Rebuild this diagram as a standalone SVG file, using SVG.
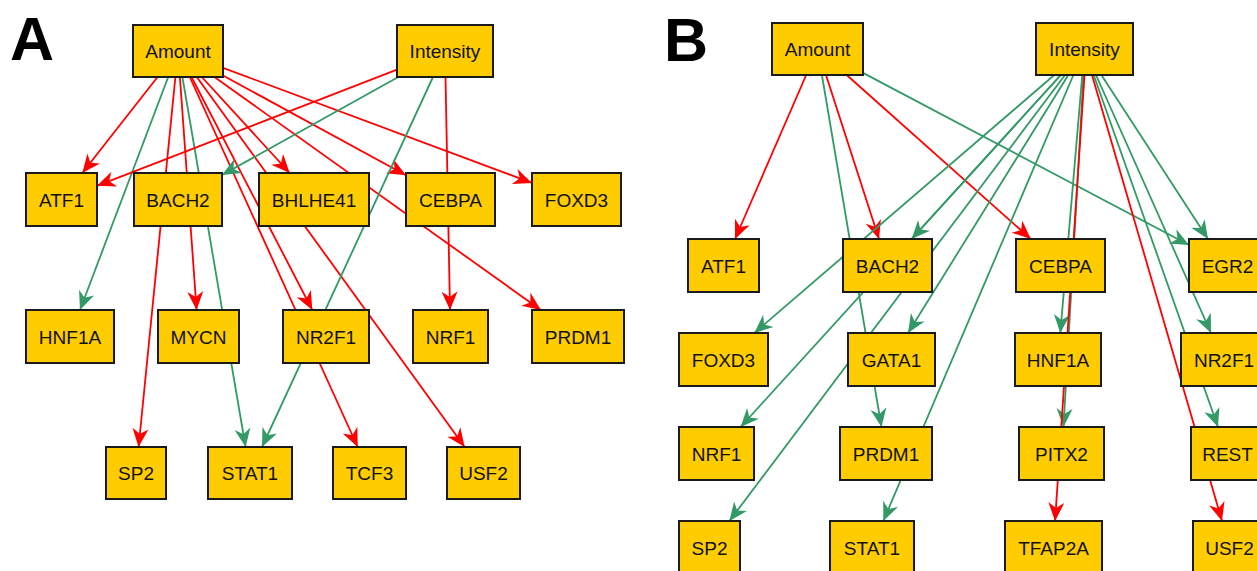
<svg xmlns="http://www.w3.org/2000/svg" width="1257" height="571" viewBox="0 0 1257 571">
<style>
.n rect{fill:#FFCC00;stroke:#1a1a1a;stroke-width:2}
.n text{font-family:"Liberation Sans",Arial,sans-serif;font-size:19px;fill:#111;text-anchor:middle}
.r{stroke:#FF0000;stroke-width:1.8;fill:none;marker-end:url(#ar)}
.g{stroke:#339966;stroke-width:1.8;fill:none;marker-end:url(#ag)}
.lbl{font-family:"Liberation Sans",Arial,sans-serif;font-weight:bold;font-size:61px;fill:#000}
</style>
<defs>
<marker id="ar" viewBox="-19 -9 20 18" refX="0" refY="0" markerWidth="20" markerHeight="18" markerUnits="userSpaceOnUse" orient="auto">
<path d="M0,0 L-18.5,-8 L-13,0 L-18.5,8 Z" fill="#FF0000"/>
</marker>
<marker id="ag" viewBox="-19 -9 20 18" refX="0" refY="0" markerWidth="20" markerHeight="18" markerUnits="userSpaceOnUse" orient="auto">
<path d="M0,0 L-18.5,-8 L-13,0 L-18.5,8 Z" fill="#339966"/>
</marker>
</defs>
<rect width="1257" height="571" fill="#fff"/>
<text class="lbl" x="10" y="60">A</text>
<text class="lbl" x="664" y="61">B</text>
<g id="connectors">
<line class="r" x1="157.6" y1="77" x2="82.3" y2="173"/>
<line class="g" x1="168.2" y1="77" x2="80" y2="310"/>
<line class="r" x1="175.4" y1="77" x2="138.6" y2="447"/>
<line class="r" x1="179.9" y1="77" x2="196.6" y2="310"/>
<line class="g" x1="182.4" y1="77" x2="245.6" y2="447"/>
<line class="r" x1="189.8" y1="77" x2="357.7" y2="447"/>
<line class="r" x1="191.5" y1="77" x2="312.3" y2="310"/>
<line class="r" x1="196.8" y1="77" x2="464.7" y2="447"/>
<line class="r" x1="201.8" y1="77" x2="289.7" y2="173"/>
<line class="r" x1="214.4" y1="77" x2="540.9" y2="310"/>
<line class="r" x1="223" y1="75.5" x2="406" y2="175.2"/>
<line class="r" x1="223" y1="67.8" x2="532" y2="182.9"/>
<line class="r" x1="397" y1="69.6" x2="97" y2="185.8"/>
<line class="g" x1="398.3" y1="77" x2="222" y2="175"/>
<line class="g" x1="433" y1="77" x2="262" y2="447"/>
<line class="r" x1="445.5" y1="77" x2="450" y2="310"/>

<line class="r" x1="806.2" y1="75" x2="735" y2="239"/>
<line class="r" x1="826" y1="75" x2="879" y2="239"/>
<line class="g" x1="821.9" y1="75" x2="881.5" y2="427"/>
<line class="r" x1="846.7" y1="75" x2="1030.8" y2="239"/>
<line class="g" x1="863" y1="72.9" x2="1189" y2="245"/>
<line class="g" x1="1054.3" y1="75" x2="754.3" y2="333"/>
<line class="g" x1="1060.8" y1="75" x2="911.6" y2="239"/>
<line class="g" x1="1060.8" y1="75" x2="740.6" y2="427"/>
<line class="g" x1="1065" y1="75" x2="729.4" y2="521"/>
<line class="g" x1="1068.3" y1="75" x2="908" y2="333"/>
<line class="g" x1="1073.4" y1="75" x2="883.3" y2="521"/>
<line class="g" x1="1082.3" y1="75" x2="1060.3" y2="333"/>
<line class="g" x1="1083.5" y1="75" x2="1063.5" y2="427"/>
<line class="r" x1="1084.5" y1="75" x2="1055.1" y2="521"/>
<line class="r" x1="1092" y1="75" x2="1222" y2="521"/>
<line class="g" x1="1093.7" y1="75" x2="1218" y2="427"/>
<line class="g" x1="1096" y1="75" x2="1211" y2="333"/>
<line class="g" x1="1101.4" y1="75" x2="1208" y2="239"/>
</g>

<g id="A_Amount" class="n"><rect x="133" y="25" width="90" height="52"/><text x="178" y="58">Amount</text></g>
<g id="A_Intensity" class="n"><rect x="397" y="25" width="96" height="52"/><text x="445" y="58">Intensity</text></g>
<g id="A_ATF1" class="n"><rect x="26" y="173" width="71" height="53"/><text x="61.5" y="206.5">ATF1</text></g>
<g id="A_BACH2" class="n"><rect x="134" y="173" width="88" height="53"/><text x="178" y="206.5">BACH2</text></g>
<g id="A_BHLHE41" class="n"><rect x="259" y="173" width="110" height="53"/><text x="314" y="206.5">BHLHE41</text></g>
<g id="A_CEBPA" class="n"><rect x="406" y="173" width="89" height="53"/><text x="450.5" y="206.5">CEBPA</text></g>
<g id="A_FOXD3" class="n"><rect x="532" y="173" width="89" height="53"/><text x="576.5" y="206.5">FOXD3</text></g>
<g id="A_HNF1A" class="n"><rect x="26" y="310" width="88" height="53"/><text x="70" y="343.5">HNF1A</text></g>
<g id="A_MYCN" class="n"><rect x="158" y="310" width="81" height="53"/><text x="198.5" y="343.5">MYCN</text></g>
<g id="A_NR2F1" class="n"><rect x="283" y="310" width="86" height="53"/><text x="326" y="343.5">NR2F1</text></g>
<g id="A_NRF1" class="n"><rect x="413" y="310" width="75" height="53"/><text x="450.5" y="343.5">NRF1</text></g>
<g id="A_PRDM1" class="n"><rect x="532" y="310" width="92" height="53"/><text x="578" y="343.5">PRDM1</text></g>
<g id="A_SP2" class="n"><rect x="106" y="447" width="60" height="52"/><text x="136" y="480">SP2</text></g>
<g id="A_STAT1" class="n"><rect x="208" y="447" width="84" height="52"/><text x="250" y="480">STAT1</text></g>
<g id="A_TCF3" class="n"><rect x="333" y="447" width="73" height="52"/><text x="369.5" y="480">TCF3</text></g>
<g id="A_USF2" class="n"><rect x="447" y="447" width="73" height="52"/><text x="483.5" y="480">USF2</text></g>

<g id="B_Amount" class="n"><rect x="772" y="23" width="91" height="52"/><text x="817.5" y="56">Amount</text></g>
<g id="B_Intensity" class="n"><rect x="1036" y="23" width="97" height="52"/><text x="1084.5" y="56">Intensity</text></g>
<g id="B_ATF1" class="n"><rect x="688" y="239" width="71" height="53"/><text x="723.5" y="272.5">ATF1</text></g>
<g id="B_BACH2" class="n"><rect x="843" y="239" width="89" height="53"/><text x="887.5" y="272.5">BACH2</text></g>
<g id="B_CEBPA" class="n"><rect x="1016" y="239" width="89" height="53"/><text x="1060.5" y="272.5">CEBPA</text></g>
<g id="B_EGR2" class="n"><rect x="1189" y="239" width="77" height="53"/><text x="1227.5" y="272.5">EGR2</text></g>
<g id="B_FOXD3" class="n"><rect x="679" y="333" width="89" height="53"/><text x="723.5" y="366.5">FOXD3</text></g>
<g id="B_GATA1" class="n"><rect x="848" y="333" width="87" height="53"/><text x="891.5" y="366.5">GATA1</text></g>
<g id="B_HNF1A" class="n"><rect x="1015" y="333" width="86" height="53"/><text x="1058" y="366.5">HNF1A</text></g>
<g id="B_NR2F1" class="n"><rect x="1181" y="333" width="86" height="53"/><text x="1224" y="366.5">NR2F1</text></g>
<g id="B_NRF1" class="n"><rect x="679" y="427" width="75" height="53"/><text x="716.5" y="460.5">NRF1</text></g>
<g id="B_PRDM1" class="n"><rect x="840" y="427" width="92" height="53"/><text x="886" y="460.5">PRDM1</text></g>
<g id="B_PITX2" class="n"><rect x="1019" y="427" width="85" height="53"/><text x="1061.5" y="460.5">PITX2</text></g>
<g id="B_REST" class="n"><rect x="1191" y="427" width="73" height="53"/><text x="1227.5" y="460.5">REST</text></g>
<g id="B_SP2" class="n"><rect x="679" y="521" width="61" height="53"/><text x="709.5" y="554.5">SP2</text></g>
<g id="B_STAT1" class="n"><rect x="830" y="521" width="84" height="53"/><text x="872" y="554.5">STAT1</text></g>
<g id="B_TFAP2A" class="n"><rect x="1005" y="521" width="97" height="53"/><text x="1053.5" y="554.5">TFAP2A</text></g>
<g id="B_USF2" class="n"><rect x="1193" y="521" width="73" height="53"/><text x="1229.5" y="554.5">USF2</text></g>
</svg>
